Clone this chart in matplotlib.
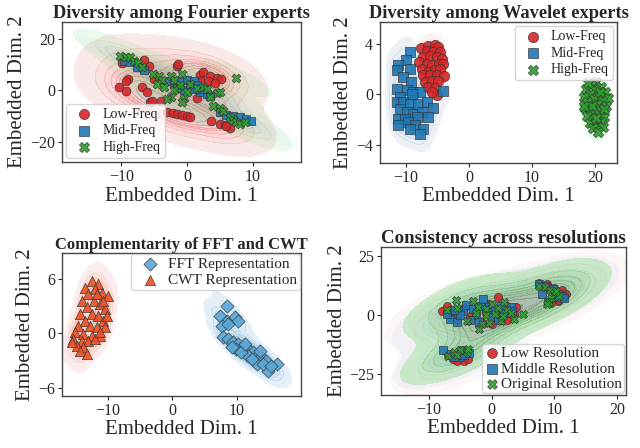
# t-SNE style embeddings of expert representations, 2x2 panels
import matplotlib
matplotlib.use('Agg')
import matplotlib.pyplot as plt
import numpy as np
import seaborn as sns

sns.set_style('white')
plt.rcParams['font.family'] = ['Liberation Serif', 'DejaVu Serif']
plt.rcParams['axes.unicode_minus'] = True

red = '#d62728'
blue = '#1f77b4'
green = '#2ca02c'
fft_c = '#5aa7d8'
cwt_c = '#ef5024'

# ---- panel 1: Fourier experts
four_low = np.array([(-9.9, 10.8), (-9.0, 4.5), (-9.3, 3.5), (-10.3, 1.2), (-9.3, -0.4), (-6.8, 1.2),
                     (-6.1, -0.8), (-5.7, -4.4), (-5.3, -4.0), (-3.9, -4.2), (-5.8, 9.6), (-1.5, 9.6),
                     (-1.3, 10.4), (-5.0, 4.5), (-3.0, -8.5), (-2.2, -8.8), (-1.5, -9.2), (-0.8, -9.5),
                     (0.0, -9.8), (0.4, -10.2), (2.0, 6.0), (2.5, 7.0), (3.5, 5.5), (4.5, 5.0),
                     (5.2, 4.5), (2.2, 3.5), (3.2, 3.5), (4.2, 3.0), (3.7, -12.0), (5.0, -13.0),
                     (5.8, -13.5), (6.5, -14.5), (6.0, -14.0), (1.5, -3.0), (-6.5, 12.0)])
four_mid = np.array([(-9.6, 11.5), (-8.6, 11.0), (-7.6, 9.0), (-6.6, 8.0), (-3.0, 3.5), (-2.0, 3.0),
                     (-1.0, 3.5), (0.0, 4.0), (1.0, 3.5), (1.5, 2.0), (0.5, 1.5), (-1.5, 1.0),
                     (-0.5, 0.0), (2.0, -0.5), (3.0, -1.5), (3.5, -2.0), (5.0, -8.5), (6.0, -9.5),
                     (7.0, -10.0), (8.0, -10.5), (9.0, -11.0), (9.8, -11.8), (1.0, 0.5), (2.5, 0.5)])
four_high = np.array([(-10.2, 13.5), (-9.3, 13.0), (-8.7, 13.2), (-8.0, 11.5), (-7.5, 10.5), (-6.8, 9.0),
                      (-5.2, 6.5), (-4.2, 5.5), (-3.8, 4.0), (-4.5, 2.5), (-3.5, 1.5), (-2.5, 5.5),
                      (-2.0, 4.0), (-0.8, 6.5), (-1.5, 1.0), (-2.5, -2.5), (-3.0, -3.5), (-0.5, -3.0),
                      (-0.7, -4.5), (0.0, -0.5), (0.5, 2.5), (1.5, 1.0), (2.5, 1.5), (3.0, 0.5),
                      (4.5, -1.0), (5.0, -0.5), (3.5, -2.5), (4.0, -6.0), (5.0, -7.0), (5.5, -8.0),
                      (6.5, -10.5), (7.0, -11.5), (7.5, -12.5), (8.0, -13.0), (8.8, -12.5), (7.5, 5.0),
                      (-1.0, 2.0), (-2.0, 0.0)])

# ---- panel 2: Wavelet experts
wav_low = np.array([(-7.67, 3.68), (-6.46, 3.82), (-5.40, 3.90), (-4.87, 3.76), (-6.72, 3.42), (-5.66, 3.37),
                    (-4.60, 3.37), (-7.25, 2.97), (-6.19, 3.02), (-5.13, 2.97), (-4.34, 2.83), (-7.88, 2.57),
                    (-6.72, 2.43), (-5.93, 2.36), (-4.71, 2.43), (-4.08, 2.38), (-7.51, 2.04), (-6.46, 1.77),
                    (-5.40, 1.90), (-4.60, 2.04), (-7.25, 1.51), (-6.19, 1.51), (-5.13, 1.51), (-3.97, 1.46),
                    (-6.98, 0.98), (-5.93, 1.03), (-4.87, 1.03), (-6.46, 0.58), (-5.40, 0.53), (-5.13, -0.03),
                    (-5.93, 0.19)])
wav_mid = np.array([(-9.37, 3.37), (-10.0, 2.70), (-11.2, 2.31), (-11.5, 1.91), (-9.37, 2.04), (-10.5, 1.38),
                    (-9.26, 0.98), (-11.5, 0.45), (-9.9, 0.32), (-8.84, 0.19), (-7.78, 0.19), (-10.95, -0.21),
                    (-9.1, 0.06), (-11.5, -0.61), (-10.4, -0.61), (-9.37, -0.74), (-8.05, -0.74), (-6.72, -0.61),
                    (-5.66, -1.09), (-10.95, -1.14), (-9.9, -1.41), (-8.84, -1.54), (-7.51, -1.41), (-6.46, -1.81),
                    (-11.2, -1.94), (-10.16, -1.94), (-8.31, -1.81), (-11.2, -2.47), (-9.63, -2.20), (-8.57, -2.47),
                    (-7.25, -2.73), (-9.37, -2.73), (-7.78, -3.13), (-4.08, 0.24)])
wav_high = np.array([(20.2, 1.0), (19.4, 0.7), (21.0, 0.6), (18.6, 0.4), (20.0, 0.3), (21.6, 0.2),
                     (19.2, 0.0), (20.6, -0.1), (18.2, -0.2), (22.0, -0.3), (19.8, -0.4), (21.2, -0.5),
                     (18.8, -0.6), (20.4, -0.8), (19.0, -1.0), (21.8, -0.9), (18.4, -1.1), (20.0, -1.2),
                     (21.0, -1.3), (19.5, -1.5), (20.7, -1.6), (18.7, -1.7), (21.5, -1.8), (19.9, -2.0),
                     (20.9, -2.2), (19.2, -2.3), (20.3, -2.5), (21.3, -2.6), (19.7, -2.7), (20.5, -3.0),
                     (18.9, 0.9), (20.8, 0.2), (19.6, -0.9), (20.2, -1.9), (18.3, -0.9), (21.4, -1.2)])

# ---- panel 3: FFT vs CWT
fft_pts = np.array([(8.43, 3.04), (7.40, 1.94), (8.43, 1.39), (9.72, 1.76), (10.2, 1.39), (7.66, 0.84),
                    (8.69, 1.02), (7.92, -0.44), (8.69, -0.62), (9.46, -0.99), (10.2, -1.18), (11.0, -1.54),
                    (11.8, -1.73), (12.55, -2.09), (13.1, -2.46), (13.85, -2.64), (14.6, -3.0), (14.9, -4.11),
                    (16.2, -3.38), (13.1, -3.38), (11.8, -2.46), (9.97, -1.73), (10.7, -2.09), (9.2, -1.54),
                    (12.3, -2.82), (11.3, -1.18), (14.1, -3.38), (15.4, -3.56), (13.6, -1.9)])
cwt_pts = np.array([(-12.5, 5.8), (-11.5, 5.4), (-13.5, 5.0), (-12.0, 4.9), (-10.9, 4.5), (-9.9, 4.1),
                    (-13.0, 4.3), (-14.0, 3.6), (-12.2, 3.6), (-11.2, 3.2), (-10.4, 2.7), (-13.3, 2.9),
                    (-14.3, 2.1), (-12.5, 2.1), (-11.5, 1.9), (-10.7, 1.4), (-13.5, 1.4), (-14.6, 0.83),
                    (-12.8, 0.83), (-11.7, 0.65), (-10.4, 0.65), (-15.1, 0.1), (-13.8, -0.08), (-12.5, -0.26),
                    (-11.2, -0.26), (-15.4, -0.63), (-14.0, -0.81), (-13.0, -0.81), (-12.0, -0.63), (-14.8, -1.36),
                    (-13.8, -1.54), (-15.6, -1.0), (-14.3, -1.9), (-13.3, -2.3), (-11.2, 0.1), (-11.7, 4.3),
                    (-10.7, 3.6), (-10.2, 1.9)])

# ---- panel 4: resolutions
res_low = np.array([(-8.0, 1.6), (-7.1, 4.0), (-6.5, 1.0), (-5.5, -1.5), (-4.5, 3.0), (-3.5, -0.5),
                    (-2.5, 2.5), (-1.5, -3.5), (-0.5, 4.5), (1.0, 7.8), (0.5, 1.0), (1.5, -1.5),
                    (2.5, 4.0), (3.5, 0.4), (3.9, 3.3), (2.5, -2.0), (-1.0, 1.0), (0.0, -4.0),
                    (7.5, 13.5), (8.8, 13.0), (10.0, 11.5), (11.2, 10.5), (11.8, 9.0), (11.5, 7.5),
                    (10.5, 6.0), (9.5, 5.0), (10.8, 6.5), (9.0, 12.0),
                    (-6.2, -18.5), (-5.5, -19.5), (-4.5, -19.5), (-3.8, -18.5), (-7.0, -17.0)])
res_mid = np.array([(-6.7, -1.7), (-5.6, -3.1), (-4.6, 1.7), (-4.1, 4.4), (-3.0, 2.5), (-2.5, 0.0),
                    (-1.8, 4.0), (-1.4, 6.8), (-0.5, 3.5), (0.5, 2.0), (1.5, 4.0), (2.0, 1.0),
                    (3.0, 3.5), (3.3, 1.5), (-3.5, -2.0), (-5.0, 0.0), (-6.0, 2.0), (-2.0, -3.0),
                    (0.0, -1.0), (-7.2, 0.5), (1.0, -2.0),
                    (7.5, 13.0), (8.5, 12.5), (9.8, 11.0), (10.5, 9.0), (11.2, 8.0), (11.5, 7.0),
                    (10.2, 7.5), (9.0, 5.5), (8.0, 9.0),
                    (-7.8, -15.0), (-6.5, -16.5), (-5.3, -17.8), (-4.5, -17.0), (-3.6, -16.0), (-4.8, -15.0),
                    (-6.0, -18.0)])
res_orig = np.array([(-7.2, 2.0), (-5.7, 6.5), (-5.5, 3.0), (-3.0, 6.0), (-2.2, 3.5), (-1.0, 2.5),
                     (0.0, 4.5), (0.5, 0.5), (1.0, 3.0), (2.0, 5.5), (2.5, 2.0), (3.5, -1.5),
                     (5.0, 0.5), (-1.5, -4.0), (-2.0, -6.0), (-0.5, -3.5), (1.5, -2.5), (-4.0, -2.5),
                     (-1.0, 0.0), (1.8, -0.5), (3.0, 1.0), (-2.5, 1.0),
                     (7.5, 12.5), (8.5, 12.0), (9.3, 10.5), (10.0, 9.5), (10.7, 8.0), (9.5, 7.0),
                     (9.2, 5.5), (8.8, 4.5), (10.3, 10.0),
                     (-7.0, -17.5), (-6.0, -15.5), (-5.0, -15.0), (-4.0, -15.5), (-5.5, -17.0), (-3.8, -14.5)])


def kde(ax, pts, c, alpha=0.3, bw=1.0, thresh=0.05, levels=10):
    sns.kdeplot(x=pts[:, 0], y=pts[:, 1], fill=True, color=c, alpha=alpha, levels=levels,
                thresh=thresh, bw_adjust=bw, ax=ax, zorder=0, edgecolor='none', linewidth=0)


def pts_plot(ax, pts, c, m, lab, s=40):
    ax.scatter(pts[:, 0], pts[:, 1], c=c, marker=m, s=s, edgecolors='#333333',
               linewidths=0.5, alpha=0.9, label=lab, zorder=3)


def style(ax, title, xt, yt, xl, yl, tsize=13.2):
    ax.set_title(title, fontsize=tsize, fontweight='bold', pad=3)
    ax.set_xlabel('Embedded Dim. 1', fontsize=15, labelpad=1)
    ax.set_ylabel('Embedded Dim. 2', fontsize=15, labelpad=2)
    ax.set_xticks(xt)
    ax.set_yticks(yt)
    ax.set_xlim(xl)
    ax.set_ylim(yl)
    ax.tick_params(labelsize=11.5, length=3, width=0.8, direction='out',
                   bottom=True, left=True, pad=2)
    for sp in ax.spines.values():
        sp.set_color('#444444')
        sp.set_linewidth(1.0)


fig = plt.figure(figsize=(6.4, 4.48), dpi=100)
ax1 = fig.add_axes([0.097, 0.638, 0.373, 0.3125])
ax2 = fig.add_axes([0.594, 0.636, 0.370, 0.315])
ax3 = fig.add_axes([0.097, 0.116, 0.373, 0.319])
ax4 = fig.add_axes([0.596, 0.119, 0.382, 0.329])

# 1
kde(ax1, four_low, red, alpha=0.25, thresh=0.02, bw=1.2)
kde(ax1, four_mid, blue, alpha=0.06, thresh=0.02, bw=1.2)
kde(ax1, four_high, green, alpha=0.12, thresh=0.02, bw=1.2)
pts_plot(ax1, four_low, red, 'o', 'Low-Freq')
pts_plot(ax1, four_mid, blue, 's', 'Mid-Freq')
pts_plot(ax1, four_high, green, 'X', 'High-Freq')
style(ax1, 'Diversity among Fourier experts', [-10, 0, 10], [-20, 0, 20], (-19, 17.3), (-28, 26.6))
ax1.legend(loc='lower left', fontsize=10, handletextpad=0.3, borderpad=0.3,
           labelspacing=0.25, borderaxespad=0.3, markerscale=1.15)

# 2
kde(ax2, wav_low, red, alpha=0.12)
kde(ax2, wav_mid, '#6f8fb0', alpha=0.22)
kde(ax2, wav_high, green, alpha=0.12)
pts_plot(ax2, wav_low, red, 'o', 'Low-Freq', s=55)
pts_plot(ax2, wav_mid, blue, 's', 'Mid-Freq', s=55)
pts_plot(ax2, wav_high, green, 'X', 'High-Freq', s=55)
style(ax2, 'Diversity among Wavelet experts', [-10, 0, 10, 20], [-4, 0, 4], (-14.1, 23.5), (-5.47, 5.75))
ax2.legend(loc='upper right', fontsize=10, handletextpad=0.3, borderpad=0.3,
           labelspacing=0.25, borderaxespad=0.3)

# 3
kde(ax3, fft_pts, fft_c, alpha=0.25, thresh=0.03)
kde(ax3, cwt_pts, cwt_c, alpha=0.2, thresh=0.03)
pts_plot(ax3, fft_pts, fft_c, 'D', 'FFT Representation', s=45)
pts_plot(ax3, cwt_pts, cwt_c, '^', 'CWT Representation', s=55)
style(ax3, 'Complementarity of FFT and CWT', [-10, 0, 10], [-6, 0, 6], (-17.1, 19.95), (-6.9, 8.84),
      tsize=12)
ax3.legend(loc='upper right', fontsize=11, handletextpad=0.2, borderpad=0.2,
           labelspacing=0.15, borderaxespad=0.05)

# 4
kde(ax4, res_low, red, alpha=0.1, thresh=0.02, bw=1.25)
kde(ax4, res_mid, blue, alpha=0.1, thresh=0.02, bw=1.25)
kde(ax4, res_orig, green, alpha=0.3, thresh=0.02, bw=1.25)
pts_plot(ax4, res_low, red, 'o', 'Low Resolution', s=34)
pts_plot(ax4, res_mid, blue, 's', 'Middle Resolution', s=34)
pts_plot(ax4, res_orig, green, 'X', 'Original Resolution', s=34)
style(ax4, 'Consistency across resolutions', [-10, 0, 10, 20], [-25, 0, 25], (-17.6, 21.4), (-33.8, 28.7),
      tsize=13.6)
ax4.legend(loc='lower right', fontsize=11, handletextpad=0.1, borderpad=0.15,
           labelspacing=0.1, borderaxespad=0.1, handlelength=1.0, markerscale=1.2)

fig.savefig('out.png', dpi=100)
